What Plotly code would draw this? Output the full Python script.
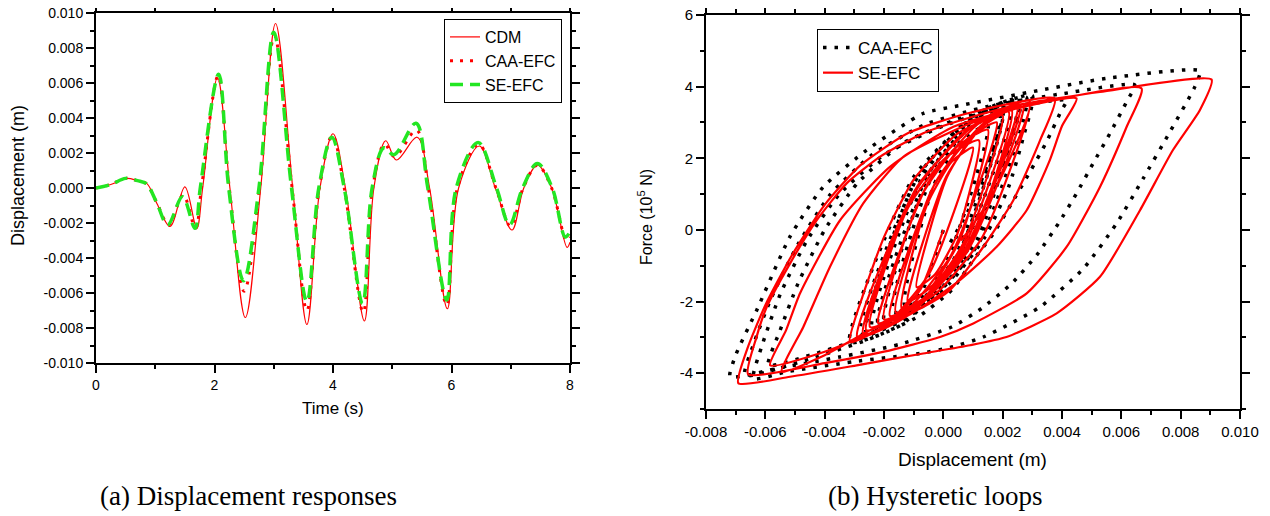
import numpy as np
import plotly.graph_objects as go

# ---------------- (a) Displacement responses ----------------
cdm_time = [0, 0.25, 0.52, 0.7, 0.86, 1.03, 1.25, 1.5, 1.70, 1.80, 2.05, 2.26, 2.52, 2.78, 3.03, 3.32,
            3.56, 3.78, 4.0, 4.21, 4.53, 4.69, 4.89, 5.07, 5.42, 5.63, 5.93, 6.12, 6.47, 6.74, 7.02,
            7.22, 7.45, 7.69, 7.95, 8.0]
cdm_disp = [0, 0.0002, 0.00055, 0.00042, 0.00025, -0.0009, -0.0022, 0.00007, -0.0023, 0.0, 0.0063, 0.0,
            -0.0074, 0.0, 0.0094, 0.0, -0.0078, 0.0, 0.0031, 0.0, -0.0076, 0.0, 0.0027, 0.0016, 0.0029,
            0.0, -0.0069, 0.0, 0.0024, 0.0, -0.0024, 0.0, 0.0013, 0.0, -0.0034, -0.0031]

caa_time = [0, 0.25, 0.5, 0.7, 0.85, 1.02, 1.23, 1.47, 1.68, 1.78, 2.06, 2.25, 2.5, 2.76, 3.01, 3.31,
            3.56, 3.77, 3.99, 4.19, 4.51, 4.67, 4.87, 5.04, 5.41, 5.61, 5.92, 6.1, 6.46, 6.75, 7.0,
            7.21, 7.45, 7.69, 7.94, 8.0]
caa_disp = [0, 0.0002, 0.00055, 0.00042, 0.00025, -0.0008, -0.0021, -0.0004, -0.0023, 0.0, 0.0064, 0.0,
            -0.0059, 0.0, 0.0087, 0.0, -0.0070, 0.0, 0.0030, 0.0, -0.0071, 0.0, 0.0025, 0.0018, 0.0033,
            0.0, -0.0067, 0.0, 0.0025, 0.0, -0.0022, 0.0, 0.0013, 0.0, -0.0030, -0.0028]

se_time = [0, 0.25, 0.5, 0.7, 0.85, 1.02, 1.21, 1.46, 1.67, 1.76, 2.07, 2.24, 2.49, 2.75, 3.0, 3.3,
           3.56, 3.76, 3.98, 4.19, 4.5, 4.66, 4.86, 5.03, 5.4, 5.6, 5.92, 6.08, 6.45, 6.76, 6.98,
           7.2, 7.45, 7.7, 7.92, 8.0]
se_disp = [0, 0.0002, 0.00055, 0.00042, 0.00025, -0.0008, -0.0021, -0.0005, -0.0023, 0.0, 0.0065, 0.0,
           -0.0053, 0.0, 0.0089, 0.0, -0.0065, 0.0, 0.0029, 0.0, -0.0066, 0.0, 0.0023, 0.0019, 0.0037,
           0.0, -0.0064, 0.0, 0.0026, 0.0, -0.0021, 0.0, 0.0014, 0.0, -0.0028, -0.0025]

# ---------------- (b) Hysteretic loops (displacement in mm, force in 1e5 N) ----------------
caa_loop_disp_mm = [
    0,
    -0.7, -1.4, -2.0, -0.50, 1.01, 2.3, 0.52, -1.27, -2.8, -0.84, 1.12, 2.8,
    1.23, -0.35, -1.7, -0.44, 0.82, 1.9, 0.40, -1.11, -2.4, -0.69, 1.03, 2.5,
    1.17, -0.16, -1.3, -0.32, 0.66, 1.5, 0.07, -1.37, -2.6, -0.99, 0.62, 2.0,
    0.53, -0.94, -2.2, -0.52, 1.16, 2.6, 0.59, -1.43, -3.15, -1.0, 1.16, 3.0,
    2.7, 2.2, 1.4, 0.2, -1.3, -3.0, -4.5, -5.9,
    -5.5, -4.9, -4.0, -2.9, -1.4, 0.5, 2.4, 4.16,
    3.99, 3.48, 2.92, 2.3, 1.69, 1.01, 0.28, -0.8, -2.5, -4.5, -6.69,
    -6.4, -5.8, -4.9, -3.8, -2.4, -0.6, 1.5, 4.0, 6.45,
    6.18, 5.62, 5.05, 4.49, 3.88, 3.15, 2.3, 1.29, 0.28, -1.5, -3.5, -5.5, -7.19,
    -7.0, -6.29, -5.17, -4.05, -2.58, -0.68, 0.67, 3.26, 5.5, 8.65,
    8.48, 7.64, 6.74, 5.84, 4.72, 3.26, 1.35, 0.28, -0.79, -3.04, -5.28, -6.4,
    -6.1, -5.5, -4.6, -3.5, -2.0, 0.0, 2.0,
    1.0, 0.2,
]
caa_loop_force = [
    0,
    -1.68, -2.33, -2.5, 1.52, 3.08, 3.5, -0.79, -2.45, -2.9, 1.52, 3.24, 3.7,
    -0.32, -1.88, -2.3, 1.39, 2.82, 3.2, -0.75, -2.29, -2.7, 1.52, 3.16, 3.6,
    -0.22, -1.70, -2.1, 1.25, 2.55, 2.9, -0.95, -2.45, -2.85, 1.30, 2.92, 3.35,
    -0.64, -2.18, -2.6, 1.55, 3.17, 3.6, -0.91, -2.66, -3.13, 1.48, 3.27, 3.75,
    2.6, 1.2, -0.2, -1.5, -2.5, -3.1, -3.5, -3.78,
    -2.8, -1.5, 0.0, 1.3, 2.4, 3.1, 3.45, 3.62,
    3.35, 2.46, 1.62, 0.74, -0.1, -0.84, -1.68, -2.4, -3.05, -3.6, -4.06,
    -3.2, -1.9, -0.4, 1.0, 2.1, 2.95, 3.45, 3.8, 4.05,
    3.58, 2.7, 1.86, 1.02, 0.18, -0.7, -1.5, -2.19, -2.71, -3.2, -3.55, -3.85, -4.1,
    -3.5, -2.24, -0.19, 1.2, 2.23, 3.25, 3.49, 3.9, 4.23, 4.44,
    4.0, 2.74, 1.44, 0.18, -1.08, -2.15, -2.99, -3.27, -3.45, -3.68, -3.96, -4.15,
    -3.2, -1.8, -0.3, 1.0, 2.1, 2.9, 3.35,
    0.8, -0.4,
]

se_loop_disp_mm = [
    0,
    -0.77, -1.54, -2.2, -0.52, 1.16, 2.6, 0.68, -1.25, -2.9, -0.87, 1.16, 2.9,
    1.33, -0.25, -1.6, -0.41, 0.78, 1.8, 0.26, -1.28, -2.6, -0.92, 0.76, 2.2,
    0.73, -0.74, -2.0, -0.78, 0.45, 1.5, 0.56, -0.39, -1.2, 0.10, 1.39, 2.5,
    0.76, -0.98, -2.47, -1.19, 0.10, 1.2, 0.47, -0.27, -0.9, 0.12, 1.13, 2.0,
    0.67, -0.66, -1.8, -0.23, 1.35, 2.7, 0.81, -1.08, -2.7, -0.95, 0.80, 2.3,
    1.01, -0.29, -1.4, -0.56, 0.28, 1.0, -0.45, -1.91, -3.15,
    -2.7, -2.0, -1.0, 0.5, 2.3, 4.49,
    4.0, 3.59, 2.81, 1.8, 0.56, -1.0, -2.5, -4.0, -5.84,
    -5.3, -4.83, -3.48, -1.8, 0.34, 3.0, 6.68,
    6.18, 5.28, 4.16, 2.81, 1.01, -0.11, -2.0, -4.0, -6.58,
    -6.3, -5.95, -5.17, -4.27, -3.26, -2.14, -0.68, 0.79, 2.58, 5.28, 9.04,
    8.65, 7.74, 6.63, 5.28, 3.82, 2.13, 0.9, -0.68, -2.92, -5.17, -6.91,
    -6.6, -6.0, -5.1, -4.0, -2.8, -1.2, 0.8, 3.76,
    3.26, 2.36, 1.35, 0.22, -0.68, -2.47, -4.0, -5.45,
    -4.72, -3.82, -2.7, -1.35, 0.9, 2.9,
    1.6, 0.6,
]
se_loop_force = [
    0,
    -1.66, -2.37, -2.6, 1.30, 2.95, 3.5, -0.66, -2.42, -3.0, 1.22, 3.01, 3.6,
    -0.18, -1.77, -2.3, 1.09, 2.52, 3.0, -0.71, -2.28, -2.8, 1.10, 2.75, 3.3,
    -0.41, -1.98, -2.5, 0.89, 2.32, 2.8, -0.27, -1.57, -2.0, 1.49, 2.96, 3.45,
    -0.49, -2.16, -2.71, 0.62, 2.03, 2.5, -0.12, -1.23, -1.6, 1.47, 2.77, 3.2,
    -0.38, -1.90, -2.4, 1.38, 2.97, 3.5, -0.60, -2.32, -2.9, 1.10, 2.79, 3.35,
    -0.20, -1.70, -2.2, 0.68, 1.90, 2.3, -1.18, -2.64, -3.13,
    -1.8, -0.2, 1.4, 2.7, 3.35, 3.67,
    2.9, 1.95, 0.55, -0.47, -1.4, -2.3, -2.9, -3.4, -3.78,
    -2.8, -1.77, 0.27, 1.76, 2.88, 3.5, 3.95,
    2.88, 1.2, -0.47, -1.77, -2.61, -2.99, -3.4, -3.72, -4.03,
    -3.0, -2.15, -0.94, 0.27, 1.3, 2.04, 2.7, 3.11, 3.5, 3.85, 4.2,
    3.35, 2.23, 0.55, -1.31, -2.33, -2.99, -3.22, -3.45, -3.78, -4.1, -4.28,
    -3.3, -2.1, -0.7, 0.7, 1.8, 2.7, 3.25, 3.67,
    2.5, 0.83, -0.47, -1.68, -2.15, -2.8, -3.5, -3.96,
    -2.71, -1.03, 0.74, 2.04, 2.97, 3.5,
    0.9, -0.3,
]

# ---------------- ticks ----------------
left_xticks = [0, 2, 4, 6, 8]
left_yticks = [-0.010, -0.008, -0.006, -0.004, -0.002, 0.0, 0.002, 0.004, 0.006, 0.008, 0.010]
left_yticktext = ["-0.010", "-0.008", "-0.006", "-0.004", "-0.002", "0.000",
                  "0.002", "0.004", "0.006", "0.008", "0.010"]
right_xticks = [-0.008, -0.006, -0.004, -0.002, 0.0, 0.002, 0.004, 0.006, 0.008, 0.010]
right_xticktext = ["-0.008", "-0.006", "-0.004", "-0.002", "0.000",
                   "0.002", "0.004", "0.006", "0.008", "0.010"]
right_yticks = [-4, -2, 0, 2, 4, 6]
right_yticktext = ["-4", "-2", "0", "2", "4", "6"]

SANS = "Liberation Sans, Arial, sans-serif"
SERIF = "Liberation Serif, Times New Roman, serif"
RED = "#FF0000"
GREEN = "#22E622"

# page body has an 8px margin: figure placed so positions match the 1270x516 window
OFF = 8
W, H = 1254, 508


def fx(px):
    return (px - OFF) / W


def fy(py):
    return 1 - (py - OFF) / H


fig = go.Figure()

# left panel
fig.add_trace(go.Scatter(x=cdm_time, y=cdm_disp, mode="lines", name="CDM",
                         line=dict(color=RED, width=1.2, shape="spline", smoothing=1.0),
                         xaxis="x", yaxis="y", legend="legend"))
fig.add_trace(go.Scatter(x=caa_time, y=caa_disp, mode="lines", name="CAA-EFC",
                         line=dict(color=RED, width=3, dash="3px,7px", shape="spline", smoothing=1.0),
                         xaxis="x", yaxis="y", legend="legend"))
fig.add_trace(go.Scatter(x=se_time, y=se_disp, mode="lines", name="SE-EFC",
                         line=dict(color=GREEN, width=3.5, dash="13px,7px", shape="spline", smoothing=1.0),
                         xaxis="x", yaxis="y", legend="legend"))

# right panel
fig.add_trace(go.Scatter(x=np.array(caa_loop_disp_mm) * 1e-3, y=caa_loop_force, mode="lines",
                         name="CAA-EFC",
                         line=dict(color="black", width=3.5, dash="3.5px,8px", shape="spline", smoothing=0.55),
                         xaxis="x2", yaxis="y2", legend="legend2"))
fig.add_trace(go.Scatter(x=np.array(se_loop_disp_mm) * 1e-3, y=se_loop_force, mode="lines",
                         name="SE-EFC",
                         line=dict(color=RED, width=2.2, shape="spline", smoothing=0.55),
                         xaxis="x2", yaxis="y2", legend="legend2"))

axis_common = dict(showline=True, linecolor="black", linewidth=2, mirror="ticks",
                   ticks="outside", ticklen=8, tickwidth=1.5, tickcolor="black",
                   showgrid=False, zeroline=False, automargin=False,
                   ticklabeloverflow="allow")

fig.update_layout(
    width=W, height=H,
    margin=dict(l=0, r=0, t=0, b=0, autoexpand=False),
    paper_bgcolor="white", plot_bgcolor="white",
    font=dict(family=SANS, color="black"),
    xaxis=dict(domain=[fx(96), fx(570)], range=[0, 8], anchor="y",
               tickmode="array", tickvals=left_xticks, ticktext=[str(v) for v in left_xticks],
               tickfont=dict(size=14, family=SANS, color="black"),
               minor=dict(tickmode="linear", tick0=0, dtick=1, ticklen=4, tickwidth=1.5,
                          ticks="outside", tickcolor="black"),
               **axis_common),
    yaxis=dict(domain=[fy(363), fy(13)], range=[-0.010, 0.010], anchor="x",
               tickmode="array", tickvals=left_yticks, ticktext=left_yticktext,
               tickfont=dict(size=14, family=SANS, color="black"),
               minor=dict(tickmode="linear", tick0=0, dtick=0.001, ticklen=4, tickwidth=1.5,
                          ticks="outside", tickcolor="black"),
               **axis_common),
    xaxis2=dict(domain=[fx(706), fx(1240)], range=[-0.008, 0.010], anchor="y2",
                tickmode="array", tickvals=right_xticks, ticktext=right_xticktext,
                tickfont=dict(size=15, family=SANS, color="black"),
                minor=dict(tickmode="linear", tick0=0, dtick=0.001, ticklen=4, tickwidth=1.5,
                           ticks="outside", tickcolor="black"),
                **axis_common),
    yaxis2=dict(domain=[fy(409), fy(15)], range=[-5, 6], anchor="x2",
                tickmode="array", tickvals=right_yticks, ticktext=right_yticktext,
                tickfont=dict(size=15, family=SANS, color="black"),
                minor=dict(tickmode="linear", tick0=0, dtick=1, ticklen=4, tickwidth=1.5,
                           ticks="outside", tickcolor="black"),
                **axis_common),
    legend=dict(x=fx(562), xanchor="right", y=fy(19), yanchor="top",
                bordercolor="black", borderwidth=1, bgcolor="white",
                font=dict(size=16, family=SANS, color="black"), tracegroupgap=0),
    legend2=dict(x=fx(817), xanchor="left", y=fy(29), yanchor="top",
                 bordercolor="black", borderwidth=1, bgcolor="white",
                 font=dict(size=17, family=SANS, color="black"), tracegroupgap=0),
    showlegend=True,
)

annotations = [
    dict(text="Time (s)", x=fx(333), y=fy(408), font=dict(size=17, family=SANS)),
    dict(text="Displacement (m)", x=fx(18), y=fy(176), textangle=-90,
         font=dict(size=18, family=SANS)),
    dict(text="Displacement (m)", x=fx(972.5), y=fy(459), font=dict(size=19, family=SANS)),
    dict(text="Force (10<sup>5</sup> N)", x=fx(645), y=fy(217), textangle=-90,
         font=dict(size=16, family=SANS)),
    dict(text="(a) Displacement responses", x=fx(248.5), y=fy(496),
         font=dict(size=27, family=SERIF)),
    dict(text="(b) Hysteretic loops", x=fx(935), y=fy(496),
         font=dict(size=27, family=SERIF)),
]
for a in annotations:
    a.update(xref="paper", yref="paper", showarrow=False, xanchor="center", yanchor="middle")
    a["font"]["color"] = "black"
fig.update_layout(annotations=annotations)

fig.write_html("out.html")
